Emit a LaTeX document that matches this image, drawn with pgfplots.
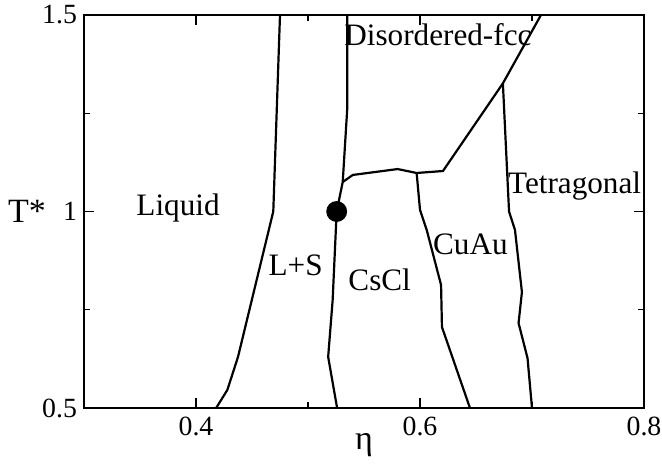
\documentclass[border=0pt]{standalone}
\usepackage{fontspec}
\setmainfont{Liberation Serif}
\usepackage{pgfplots}
\pgfplotsset{compat=1.18}
\usetikzlibrary{calc}
\begin{document}
\begin{tikzpicture}
\begin{axis}[
  scale only axis,
  width=280pt, height=196.5pt,
  xmin=0.3, xmax=0.8, ymin=0.5, ymax=1.5,
  xtick={0.4,0.6,0.8},
  minor xtick={0.3,0.5,0.7},
  ytick={0.5,1,1.5},
  minor ytick={0.75,1.25},
  tick align=inside,
  major tick length=5pt, minor tick length=3pt,
  axis line style={line width=1pt},
  every tick/.style={black, line width=0.6pt},
  tick label style={font=\rmfamily\fontsize{13.9}{14}\selectfont},
  /pgf/number format/assume math mode=true,
  /pgf/number format/fixed,
  /pgf/number format/precision=1,
  xticklabel style={yshift=-1pt},
  xlabel={\fontsize{17}{18}\selectfont η},
  ylabel={\fontsize{17}{18}\selectfont T*},
  ylabel style={rotate=-90, at={(axis description cs:0,0.5)}, anchor=center, xshift=-28.5pt, inner sep=0pt},
  xlabel style={at={(axis description cs:0.5,0)}, anchor=center, yshift=-18.5pt, inner sep=0pt},
  clip=false,
  cycle list={{black, line width=1pt, mark=none}},
]
% Liquid / L+S boundary
\addplot[black, line width=1.1pt] coordinates {(0.418,0.5) (0.428,0.546) (0.4375,0.630) (0.469,1.0) (0.475,1.5)};
% L+S / CsCl boundary
\addplot[black, line width=1.1pt] coordinates {(0.526,0.5) (0.518,0.630) (0.522,0.774) (0.5256,1.0) (0.531,1.075) (0.535,1.26) (0.535,1.5)};
% CsCl / Disordered-fcc boundary
\addplot[black, line width=1.1pt] coordinates {(0.531,1.075) (0.540,1.093) (0.580,1.108) (0.597,1.098) (0.6205,1.103) (0.674,1.326) (0.708,1.5)};
% CsCl / CuAu boundary
\addplot[black, line width=1.1pt] coordinates {(0.597,1.098) (0.600,1.004) (0.606,0.953) (0.6188,0.813) (0.6196,0.706) (0.6446,0.5)};
% CuAu / Tetragonal boundary
\addplot[black, line width=1.1pt] coordinates {(0.674,1.326) (0.6795,1.0) (0.6848,0.953) (0.691,0.795) (0.688,0.716) (0.696,0.627) (0.700,0.5)};
% triple point
\addplot[only marks, mark=*, mark size=5pt, black] coordinates {(0.5256,1.0)};
\begin{scope}[every node/.style={font=\fontsize{15.6}{16}\selectfont, inner sep=0pt}]
\node at (axis cs:0.384,1.01) {Liquid};
\node at (axis cs:0.489,0.864) {L+S};
\node at (axis cs:0.564,0.826) {CsCl};
\node at (axis cs:0.645,0.917) {CuAu};
\node at (axis cs:0.738,1.065) {Tetragonal};
\node at (axis cs:0.616,1.449) {Disordered-fcc};
\end{scope}
\end{axis}
\pgfresetboundingbox
\path ($(current axis.south west)+(-42pt,-28.5pt)$) rectangle ($(current axis.north east)+(9pt,7.5pt)$);
\end{tikzpicture}
\end{document}
